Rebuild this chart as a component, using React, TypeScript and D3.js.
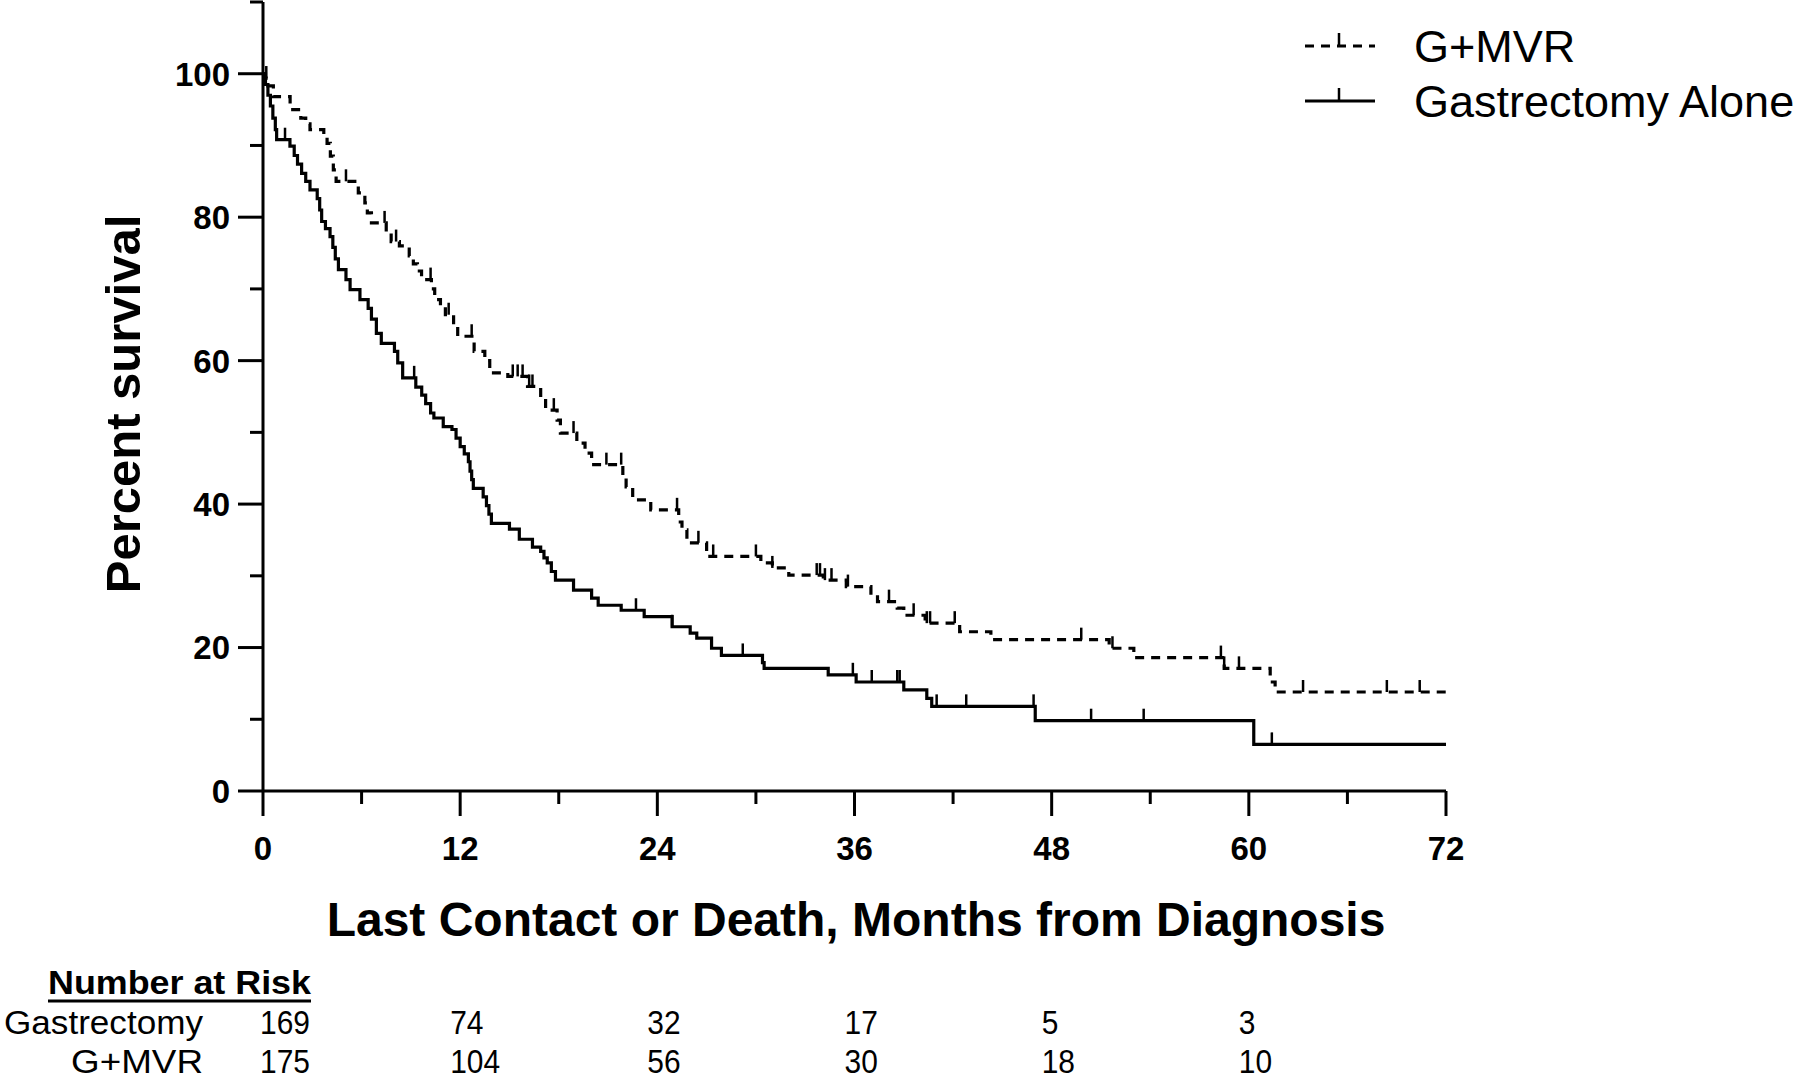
import React, { useRef, useEffect } from "react";
import * as d3 from "d3";

// [months, percent surviving] after each drop
const gastSteps: [number, number][] = [
  [0, 100], [0.15, 98.5], [0.3, 97], [0.45, 95.5], [0.6, 93.8], [0.75, 92.2], [0.83, 90.8],
  [1.64, 89.9], [1.9, 88.6], [2.1, 87.4], [2.35, 86.1], [2.6, 85.0], [2.86, 83.8],
  [3.3, 82.6], [3.45, 81.0], [3.57, 79.4], [3.8, 78.4], [4.08, 77.3], [4.25, 75.8], [4.4, 74.2], [4.59, 72.7],
  [5.05, 71.3], [5.3, 69.9], [5.9, 68.5], [6.4, 67.3], [6.6, 65.8], [6.9, 63.8], [7.2, 62.4],
  [8.0, 61.3], [8.2, 59.7], [8.5, 57.6], [9.3, 56.3], [9.66, 55.2], [9.9, 54.0], [10.2, 52.7], [10.4, 52.0], [10.97, 50.8],
  [11.5, 50.4], [11.75, 49.2], [12.0, 48.0], [12.25, 47.0], [12.5, 45.9], [12.6, 44.6], [12.7, 43.4], [12.8, 42.2],
  [13.4, 41.0], [13.6, 39.8], [13.75, 38.6], [13.9, 37.3],
  [15.0, 36.5], [15.6, 35.1], [16.4, 34.0], [16.9, 33.4], [17.1, 32.5], [17.3, 31.8], [17.55, 30.6], [17.8, 29.4],
  [18.9, 28.0], [20.0, 26.9], [20.4, 25.9], [21.8, 25.2], [23.2, 24.3], [24.9, 22.9],
  [26.0, 22.0], [26.4, 21.3], [27.3, 19.9], [27.9, 18.9],
  [30.4, 17.9], [30.5, 17.1], [34.4, 16.2], [36.1, 15.2], [39.0, 14.1], [40.4, 12.9], [40.7, 11.8], [47.0, 9.8], [60.3, 6.5],
];
const gastCensored = [1.34, 9.2, 22.7, 24.9, 29.2, 35.9, 37.05, 38.6, 38.75, 41.0, 42.8, 46.9, 50.4, 53.6, 61.4];

const mvrSteps: [number, number][] = [
  [0, 100], [0.1, 99.4], [0.3, 98.3], [0.63, 96.8], [1.65, 95.0], [2.3, 93.8], [2.6, 93.0], [2.86, 92.2],
  [3.7, 91.2], [3.9, 90.3], [4.1, 88.5], [4.28, 86.6], [4.45, 85.0], [5.8, 83.4], [6.2, 82.0], [6.35, 80.6], [6.6, 79.2],
  [7.5, 77.8], [7.8, 76.6], [8.3, 76.0], [8.9, 74.6], [9.15, 73.5], [9.4, 72.5], [9.65, 71.3],
  [10.25, 70.0], [10.45, 68.5], [10.8, 67.5], [11.1, 66.4], [11.6, 65.0], [11.85, 63.4], [12.85, 61.3], [13.5, 60.0], [13.8, 58.3],
  [14.9, 57.8], [16.1, 56.4], [16.9, 54.8], [17.2, 53.1], [17.9, 51.7], [18.1, 49.9], [19.1, 48.5], [19.6, 47.1], [20.0, 45.5],
  [21.9, 44.0], [22.1, 42.4], [22.5, 40.6], [23.6, 39.2], [25.3, 37.5], [25.5, 36.4], [25.8, 34.6], [27.0, 32.7],
  [30.3, 31.8], [31.0, 31.1], [32.0, 30.1], [34.1, 29.4], [35.5, 28.5], [37.0, 27.3], [37.4, 26.4], [38.6, 25.5], [39.0, 24.5],
  [40.3, 23.4], [42.4, 22.2], [44.3, 21.1], [51.5, 19.9], [53.0, 18.6], [58.5, 17.1], [61.3, 15.2], [61.6, 13.8],
];
const mvrCensored = [
  0.2, 5.05, 7.4, 8.1, 10.2, 11.3, 12.7, 15.2, 15.5, 15.8, 16.2, 16.4, 17.7, 18.9, 20.9, 21.8, 25.2, 26.5,
  27.4, 30.0, 31.0, 33.7, 33.9, 34.2, 34.6, 35.6, 38.1, 39.6, 40.4, 40.6, 42.1, 49.8, 51.7, 58.3, 58.5, 59.4,
  63.3, 68.4, 70.4,
];

const xTicks = [0, 12, 24, 36, 48, 60, 72];
const xMinor = [6, 18, 30, 42, 54, 66];
const yTicks = [0, 20, 40, 60, 80, 100];
const yMinor = [10, 30, 50, 70, 90, 110];

const riskTimes = [0, 12, 24, 36, 48, 60];
const gastRisk = [169, 74, 32, 17, 5, 3];
const mvrRisk = [175, 104, 56, 30, 18, 10];

const legendLabels = ["G+MVR", "Gastrectomy Alone"];

const W = 1800;
const H = 1081;
const FONT = "'Liberation Sans', Arial, sans-serif";

const App = () => {
  const svgRef = useRef<SVGSVGElement>(null);

  useEffect(() => {
    const svg = d3.select(svgRef.current);
    svg.selectAll("*").remove();

    const x = d3.scaleLinear().domain([0, 72]).range([263, 1446]);
    const y = d3.scaleLinear().domain([0, 110]).range([791, 2]);

    const g = svg.append("g");

    // y axis
    g.append("line").attr("x1", x(0)).attr("x2", x(0)).attr("y1", y(110)).attr("y2", y(0))
      .attr("stroke", "#000").attr("stroke-width", 3);
    yTicks.forEach((v) => {
      g.append("line").attr("x1", x(0) - 25).attr("x2", x(0)).attr("y1", y(v)).attr("y2", y(v))
        .attr("stroke", "#000").attr("stroke-width", 3);
      g.append("text").attr("x", x(0) - 33).attr("y", y(v)).attr("dy", "0.36em")
        .attr("text-anchor", "end").style("font", `bold 33px ${FONT}`).text(v);
    });
    yMinor.forEach((v) => {
      g.append("line").attr("x1", x(0) - 13).attr("x2", x(0)).attr("y1", y(v)).attr("y2", y(v))
        .attr("stroke", "#000").attr("stroke-width", 3);
    });

    // x axis
    g.append("line").attr("x1", x(0)).attr("x2", x(72)).attr("y1", y(0)).attr("y2", y(0))
      .attr("stroke", "#000").attr("stroke-width", 3);
    xTicks.forEach((v) => {
      g.append("line").attr("x1", x(v)).attr("x2", x(v)).attr("y1", y(0)).attr("y2", y(0) + 25)
        .attr("stroke", "#000").attr("stroke-width", 3);
      g.append("text").attr("x", x(v)).attr("y", 860)
        .attr("text-anchor", "middle").style("font", `bold 33px ${FONT}`).text(v);
    });
    xMinor.forEach((v) => {
      g.append("line").attr("x1", x(v)).attr("x2", x(v)).attr("y1", y(0)).attr("y2", y(0) + 13)
        .attr("stroke", "#000").attr("stroke-width", 3);
    });

    // axis titles
    g.append("text").attr("transform", "translate(140,404) rotate(-90)")
      .attr("text-anchor", "middle").style("font", `bold 49px ${FONT}`).text("Percent survival");
    g.append("text").attr("x", 856).attr("y", 936)
      .attr("text-anchor", "middle").style("font", `bold 48px ${FONT}`)
      .text("Last Contact or Death, Months from Diagnosis");

    const line = d3.line<[number, number]>()
      .x((d) => x(d[0]))
      .y((d) => y(d[1]))
      .curve(d3.curveStepAfter);

    const survAt = (steps: [number, number][], t: number) => {
      let s = steps[0][1];
      steps.forEach((p) => { if (p[0] <= t) s = p[1]; });
      return s;
    };

    const series = [
      { steps: mvrSteps, censored: mvrCensored, dash: "9,7" },
      { steps: gastSteps, censored: gastCensored, dash: null },
    ];

    series.forEach((sr) => {
      const pts = [...sr.steps, [72, sr.steps[sr.steps.length - 1][1]] as [number, number]];
      g.append("path").attr("d", line(pts)).attr("fill", "none")
        .attr("stroke", "#000").attr("stroke-width", 3.2)
        .attr("stroke-dasharray", sr.dash);
      sr.censored.forEach((t) => {
        const yy = y(survAt(sr.steps, t));
        g.append("line").attr("x1", x(t)).attr("x2", x(t)).attr("y1", yy).attr("y2", yy - 12)
          .attr("stroke", "#000").attr("stroke-width", 2.5);
      });
    });

    // legend
    const legendY = [46, 101];
    legendLabels.forEach((lab, i) => {
      const ly = legendY[i];
      g.append("line").attr("x1", 1305).attr("x2", 1375).attr("y1", ly).attr("y2", ly)
        .attr("stroke", "#000").attr("stroke-width", 3)
        .attr("stroke-dasharray", i === 0 ? "9,7" : null);
      g.append("line").attr("x1", 1339).attr("x2", 1339).attr("y1", ly).attr("y2", ly - 13)
        .attr("stroke", "#000").attr("stroke-width", 2.5);
      g.append("text").attr("x", 1414).attr("y", ly + 16)
        .style("font", `45px ${FONT}`).text(lab);
    });

    // number at risk table
    g.append("text").attr("x", 48).attr("y", 994)
      .style("font", `bold 34px ${FONT}`).attr("textLength", 263).attr("lengthAdjust", "spacingAndGlyphs")
      .text("Number at Risk");
    g.append("line").attr("x1", 48).attr("x2", 311).attr("y1", 1001).attr("y2", 1001)
      .attr("stroke", "#000").attr("stroke-width", 3);

    const rows = [
      { label: "Gastrectomy", values: gastRisk, y: 1034 },
      { label: "G+MVR", values: mvrRisk, y: 1073 },
    ];
    rows.forEach((r) => {
      g.append("text").attr("x", 203).attr("y", r.y).attr("text-anchor", "end")
        .style("font", `34px ${FONT}`).attr("textLength", r.label.length > 6 ? 199 : 132)
        .attr("lengthAdjust", "spacingAndGlyphs").text(r.label);
      r.values.forEach((v, i) => {
        const t = riskTimes[i];
        const tx = i === 0 ? x(t) + 47 : x(t) - 10;
        g.append("text")
          .attr("transform", `translate(${tx},${r.y}) scale(0.88,1)`)
          .attr("text-anchor", i === 0 ? "end" : "start")
          .style("font", `34px ${FONT}`)
          .text(v);
      });
    });
  }, []);

  return (
    <div style={{ position: "absolute", left: 0, top: 0, background: "#fff" }}>
      <svg ref={svgRef} width={W} height={H} style={{ display: "block" }} />
    </div>
  );
};

export default App;
